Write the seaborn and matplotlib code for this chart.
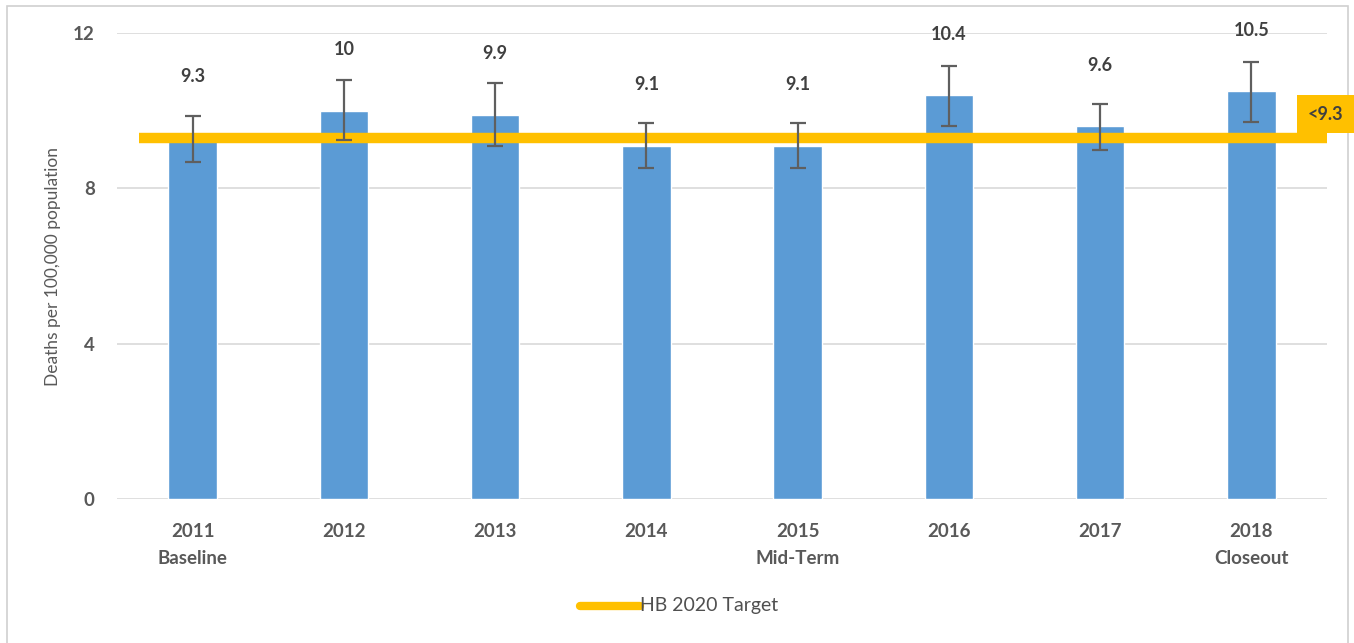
import matplotlib
matplotlib.use("Agg")
import matplotlib.pyplot as plt
from matplotlib.patches import Rectangle
from matplotlib.lines import Line2D
import seaborn as sns
import pandas as pd
import numpy as np

# Data
years = ["2011", "2012", "2013", "2014", "2015", "2016", "2017", "2018"]
milestones = ["Baseline", "", "", "", "Mid-Term", "", "", "Closeout"]
rates = [9.3, 10.0, 9.9, 9.1, 9.1, 10.4, 9.6, 10.5]
ci_lower = [8.68, 9.25, 9.09, 8.52, 8.52, 9.60, 9.00, 9.72]
ci_upper = [9.87, 10.79, 10.70, 9.67, 9.67, 11.16, 10.17, 11.25]
rate_labels = ["9.3", "10", "9.9", "9.1", "9.1", "10.4", "9.6", "10.5"]
target = 9.3
target_label = "<9.3"
legend_label = "HB 2020 Target"
y_ticks = [0, 4, 8, 12]

BAR = "#5B9BD5"
GOLD = "#FFC000"
TXT = "#595959"
GRID = "#D9D9D9"

sns.set_theme(style="white")
plt.rcParams["font.family"] = ["Lato", "DejaVu Sans"]

W, H = 1354, 643
fig = plt.figure(figsize=(W / 100, H / 100), dpi=100)
ax = fig.add_axes([117 / W, 1 - 499 / H, (1327 - 117) / W, (499 - 33) / H])

df = pd.DataFrame({"year": [f"{y}\n{m}" for y, m in zip(years, milestones)], "rate": rates})
sns.barplot(data=df, x="year", y="rate", color=BAR, width=0.32, saturation=1,
            errorbar=None, ax=ax, zorder=2)

xs = np.arange(len(years))
yerr = np.vstack([np.array(rates) - np.array(ci_lower), np.array(ci_upper) - np.array(rates)])
ax.errorbar(xs, rates, yerr=yerr, fmt="none", ecolor="#5F5F5F", elinewidth=1.6,
            capsize=5.5, capthick=1.6, zorder=4)

# Target line
ax.hlines(target, -0.355, 7.5, color=GOLD, linewidth=7.5, zorder=3, clip_on=False)

# Value labels above the bars
for x, v, lab in zip(xs, rates, rate_labels):
    ax.annotate(lab, (x, v), xytext=(0, 61), textcoords="offset pixels",
                ha="center", va="center", fontsize=13, fontweight="bold", color="#404040")

ax.set_xlim(-0.5, 7.5)
ax.set_ylim(0, 12)
ax.set_yticks(y_ticks)
ax.set_yticklabels([str(t) for t in y_ticks])
ax.yaxis.grid(True, color=GRID, linewidth=1.2, zorder=0)
ax.set_axisbelow(True)
for s in ax.spines.values():
    s.set_visible(False)
ax.tick_params(axis="both", length=0, labelsize=13.5, colors=TXT)
ax.tick_params(axis="x", pad=17)
ax.tick_params(axis="y", pad=16)
for t in ax.get_xticklabels() + ax.get_yticklabels():
    t.set_fontweight("bold")
    t.set_linespacing(1.75)
ax.set_xlabel("")
ax.set_ylabel("Deaths per 100,000 population", fontsize=12.5, color=TXT)
ax.yaxis.set_label_coords((61 - 117) / (1327 - 117), 0.5)

# Target value tag at the right end of the line
fig.patches.append(Rectangle((1297 / W, 1 - 133 / H), 60 / W, 38 / H,
                             transform=fig.transFigure, facecolor=GOLD,
                             edgecolor="none", zorder=5))
fig.text(1325 / W, 1 - 114 / H, target_label, ha="center", va="center",
         fontsize=13, fontweight="bold", color="#404040", zorder=6)

# Legend
fig.lines.append(Line2D([580 / W, 640 / W], [1 - 606 / H, 1 - 606 / H],
                        transform=fig.transFigure, color=GOLD, linewidth=6))
fig.text(640 / W, 1 - 606 / H, legend_label, ha="left", va="center",
         fontsize=14, color="#505050")

# Frame around the chart area
fig.patches.append(Rectangle((7 / W, -0.01), (1348 - 7) / W, 1 - 6 / H + 0.01,
                             transform=fig.transFigure, facecolor="none",
                             edgecolor="#D0D0D0", linewidth=1.2))

fig.savefig("out.png", dpi=100)
